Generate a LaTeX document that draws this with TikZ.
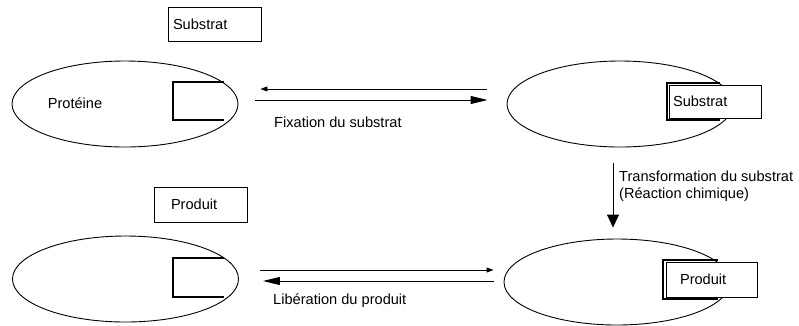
\documentclass[tikz,border=0pt]{standalone}
\usepackage{fontspec}
\setmainfont{Liberation Sans}
\usetikzlibrary{arrows.meta,shapes.geometric,calc}

\begin{document}
\begin{tikzpicture}[
  x=1pt,y=-1pt,
  font=\fontsize{14.6}{17}\selectfont,
  protein/.style={draw,ellipse,line width=0.9pt,minimum width=226pt,
    minimum height=86pt,inner sep=0pt},
  molecule/.style={draw,fill=white,line width=0.9pt,minimum height=34pt,
    inner ysep=0pt,align=left},
  pocket/.style={line width=2.2pt,line join=miter},
  label/.style={anchor=west,align=left,inner sep=0pt},
  bigtip/.style={-{Triangle[length=17pt,width=8pt]},line width=0.9pt},
  smalltip/.style={-{Triangle[length=7pt,width=5pt]},line width=0.9pt},
  downtip/.style={-{Triangle[length=13pt,width=12pt]},line width=0.9pt}
]
\useasboundingbox (0,0) rectangle (799,325);

% proteins
\node[protein] (protA) at (125,104) {};
\node[protein] (complexA) at (620,104) {};
\node[protein] (protB) at (125.5,279) {};
\node[protein] (complexB) at (617,282) {};
\node[inner sep=0pt] (protLabel) at (75,103) {Protéine};

% active sites
\draw[pocket] (224,82) -- (173,82) -- (173,120) -- (224,120);
\draw[pocket] (224,258) -- (173,258) -- (173,297) -- (224,297);
\draw[pocket] (720,83) -- (667,83) -- (667,120) -- (720,120);
\draw[pocket] (718,260) -- (663,260) -- (663,299) -- (718,299);

% substrate and product
\node[molecule,text width=83pt,inner xsep=5pt] (substratFree) at (214.5,24) {Substrat};
\node[molecule,text width=84pt,inner xsep=4pt,minimum height=33pt] (substratBound) at (715,101.5) {Substrat};
\node[molecule,text width=59pt,inner xsep=17pt,minimum height=35pt] (produitFree) at (200.5,204.5) {Produit};
\node[molecule,text width=63pt,inner xsep=14pt,minimum height=35pt] (produitBound) at (711.5,279.5) {Produit};

% binding
\draw[smalltip,shorten <=20pt,shorten >=22pt]
  ([yshift=15pt]complexA.west) -- ([yshift=15pt]protA.east);
\draw[bigtip,shorten <=17pt,shorten >=19pt]
  ([yshift=4pt]protA.east) -- ([yshift=4pt]complexA.west);
\node[label] (fixLabel) at (274,122) {Fixation du substrat};

% reaction
\draw[downtip,shorten <=16pt,shorten >=11pt]
  ([xshift=-7pt]complexA.south) -- ([xshift=-7pt]complexA.south |- complexB.north);
\node[label] (reactLabel) at (619,186.5)
  {Transformation du substrat\\(Réaction chimique)};

% release
\draw[smalltip,shorten <=21pt,shorten >=10pt]
  ([yshift=9pt]protB.east) -- ([yshift=9pt]protB.east -| complexB.west);
\draw[bigtip,shorten <=10pt,shorten >=24pt]
  ([yshift=-2pt]protB.east -| complexB.west) -- ([yshift=-2pt]protB.east);
\node[label] (relLabel) at (273,301) {Libération du produit};
\end{tikzpicture}
\end{document}
